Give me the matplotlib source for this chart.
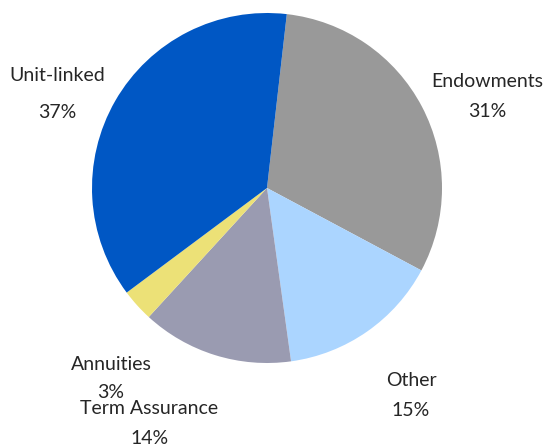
import matplotlib.pyplot as plt

# Share of business by product line
labels = ['Endowments', 'Other', 'Term Assurance', 'Annuities', 'Unit-linked']
shares = [31, 15, 14, 3, 37]
colors = ['#999999', '#abd5ff', '#9a9bb1', '#ece177', '#0057c4']

# label baselines, in units of pie radius: (x, name line, value line)
label_pos = {
    'Endowments': (1.257, 0.577, 0.406),
    'Other': (0.823, -1.130, -1.303),
    'Term Assurance': (-0.674, -1.292, -1.462),
    'Annuities': (-0.891, -1.040, -1.198),
    'Unit-linked': (-1.20, 0.611, 0.400),
}

plt.rcParams['font.family'] = ['Lato', 'DejaVu Sans']

W, H = 544, 446
cx, cy, r = 267, 188, 175
fig = plt.figure(figsize=(W / 100, H / 100), dpi=100)
ax = fig.add_axes([(cx - r) / W, (H - cy - r) / H, 2 * r / W, 2 * r / H])

ax.pie(shares, colors=colors, startangle=83.5, counterclock=False,
       radius=1, wedgeprops=dict(linewidth=0))
ax.set_xlim(-1, 1)
ax.set_ylim(-1, 1)
ax.set_aspect('equal')
ax.axis('off')

for name, val in zip(labels, shares):
    x, y1, y2 = label_pos[name]
    for y, s in ((y1, name), (y2, f'{val}%')):
        ax.text(x, y, s, ha='center', va='baseline', fontsize=14,
                color='#262626', clip_on=False)

fig.savefig('out.png', dpi=100)
